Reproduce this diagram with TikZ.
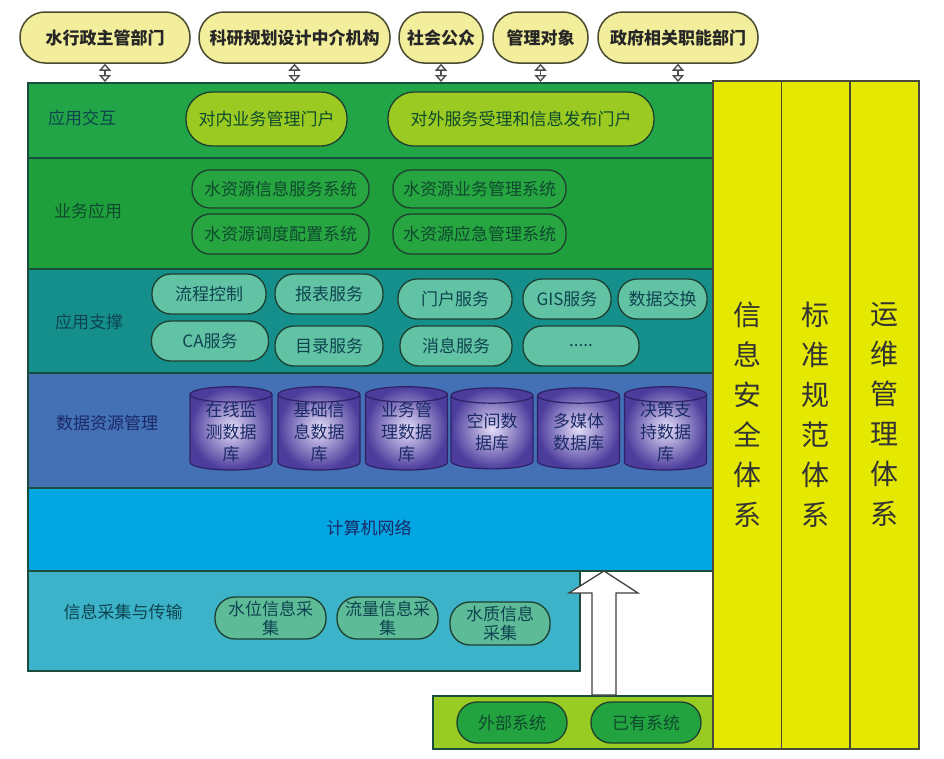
\documentclass[tikz,border=0pt]{standalone}
\usepackage{fontspec}
\setmainfont{Noto Sans CJK SC}
\usetikzlibrary{arrows.meta, positioning, shapes.geometric, calc}
\definecolor{topfill}{HTML}{F2EE9C}
\definecolor{topdraw}{HTML}{4A4A30}
\definecolor{laydraw}{HTML}{1B4D3E}
\definecolor{layone}{HTML}{22A546}
\definecolor{laytwo}{HTML}{1F9F3B}
\definecolor{laythree}{HTML}{158F8C}
\definecolor{layfour}{HTML}{4470B6}
\definecolor{layfive}{HTML}{02A6E2}
\definecolor{laysix}{HTML}{3CB3C8}
\definecolor{portfill}{HTML}{9BCB22}
\definecolor{sysfill}{HTML}{27A541}
\definecolor{svcfill}{HTML}{62C3A4}
\definecolor{acqfill}{HTML}{5EBB98}
\definecolor{extfill}{HTML}{99CC22}
\definecolor{extpill}{HTML}{22A33F}
\definecolor{colfill}{HTML}{E5E800}
\definecolor{coldraw}{HTML}{4A4A3A}
\definecolor{dbin}{HTML}{E4DEF8}
\definecolor{dbout}{HTML}{4C3C9C}
\definecolor{dbdraw}{HTML}{2E2266}
\definecolor{pilldraw}{HTML}{1E3F30}
\definecolor{greentext}{HTML}{0E4A2E}
\definecolor{tealtext}{HTML}{0D4450}
\definecolor{navytext}{HTML}{1A2A66}

\begin{document}
\begin{tikzpicture}[x=1pt, y=-1pt,
  every node/.style={font=\fontsize{17}{22}\selectfont},
  layer/.style={rectangle, draw=laydraw, line width=1.5pt, anchor=north west, inner sep=0pt, minimum width=685pt},
  toppill/.style={rectangle, rounded corners=25pt, draw=topdraw, fill=topfill, line width=1.5pt, minimum height=51pt, inner sep=0pt, font=\bfseries\fontsize{17}{22}\selectfont, text=black!85},
  pill/.style={rectangle, rounded corners=#1, draw=pilldraw, line width=1.3pt, inner sep=0pt, align=center},
  dbnode/.style={cylinder, shape border rotate=90, aspect=0.3, draw=dbdraw, line width=1.2pt, inner color=dbin, outer color=dbout, minimum width=82pt, minimum height=81pt, inner sep=0pt, align=center, text=navytext},
  colnode/.style={rectangle, draw=coldraw, fill=colfill, line width=1.5pt, anchor=north west, minimum width=68.7pt, minimum height=668pt, inner sep=0pt, align=center, font=\fontsize{28}{40}\selectfont, text=black!80},
  link/.style={draw=black!70, line width=1.4pt, {Triangle[open, fill=white, length=7pt, width=12pt]}-{Triangle[open, fill=white, length=7pt, width=12pt]}},
  bigarrow/.style={draw=black!75, fill=white, line width=1.3pt},
]
\useasboundingbox (0,0) rectangle (944,758);

\node[toppill, minimum width=170pt] (t1) at (105,37.5) {水行政主管部门};
\node[toppill, minimum width=191pt] (t2) at (294.5,37.5) {科研规划设计中介机构};
\node[toppill, minimum width=84pt] (t3) at (441,37.5) {社会公众};
\node[toppill, minimum width=95pt] (t4) at (540.5,37.5) {管理对象};
\node[toppill, minimum width=160pt] (t5) at (678,37.5) {政府相关职能部门};

\node[layer, fill=layone, minimum height=75pt] (lay1) at (27,82) {};
\node[layer, fill=laytwo, minimum height=111pt] (lay2) at (27,157) {};
\node[layer, fill=laythree, minimum height=104pt] (lay3) at (27,268) {};
\node[layer, fill=layfour, minimum height=115pt] (lay4) at (27,372) {};
\node[layer, fill=laysix, minimum height=100pt, minimum width=552pt] (lay6) at (27,570) {};
\node[layer, fill=layfive, minimum height=83pt] (lay5) at (27,487) {};
\node[rectangle, draw=laydraw, line width=1.5pt, fill=extfill, anchor=north west, minimum width=280pt, minimum height=53pt, inner sep=0pt] (ext) at (432,695) {};

\foreach \t in {t1,t2,t3,t4,t5}
  \draw[link] (\t.south) -- (\t.south |- lay1.north);

\node[text=tealtext] (lab1) at (82,118) {应用交互};
\node[text=greentext] (lab2) at (88,211) {业务应用};
\node[text=tealtext] (lab3) at (89,322) {应用支撑};
\node[text=navytext] (lab4) at (107,423) {数据资源管理};
\node[text=navytext] (lab5) at (369,528) {计算机网络};
\node[text=tealtext] (lab6) at (123,612) {信息采集与传输};

\node[pill=26pt, fill=portfill, minimum width=161pt, minimum height=54pt, text=greentext] (p1) at (266.5,119) {对内业务管理门户};
\node[pill=26pt, fill=portfill, minimum width=266pt, minimum height=54pt, text=greentext] (p2) at (521,119) {对外服务受理和信息发布门户};

\node[pill=18pt, fill=sysfill, minimum width=177pt, minimum height=38pt, text=greentext] (b1) at (280.5,189) {水资源信息服务系统};
\node[pill=18pt, fill=sysfill, minimum width=173pt, minimum height=38pt, text=greentext] (b2) at (479.5,189) {水资源业务管理系统};
\node[pill=18pt, fill=sysfill, minimum width=177pt, minimum height=40pt, text=greentext] (b3) at (280.5,234) {水资源调度配置系统};
\node[pill=18pt, fill=sysfill, minimum width=173pt, minimum height=40pt, text=greentext] (b4) at (479.5,234) {水资源应急管理系统};

\node[pill=19pt, fill=svcfill, minimum width=114pt, minimum height=40pt, text=tealtext] (s1) at (209,294) {流程控制};
\node[pill=19pt, fill=svcfill, minimum width=108pt, minimum height=40pt, text=tealtext] (s2) at (329,294) {报表服务};
\node[pill=19pt, fill=svcfill, minimum width=114pt, minimum height=40pt, text=tealtext] (s3) at (455,299) {门户服务};
\node[pill=19pt, fill=svcfill, minimum width=88pt, minimum height=40pt, text=tealtext] (s4) at (567,299) {GIS服务};
\node[pill=19pt, fill=svcfill, minimum width=89pt, minimum height=40pt, text=tealtext] (s5) at (662.5,299) {数据交换};
\node[pill=19pt, fill=svcfill, minimum width=117pt, minimum height=40pt, text=tealtext] (s6) at (210,341) {CA服务};
\node[pill=19pt, fill=svcfill, minimum width=108pt, minimum height=40pt, text=tealtext] (s7) at (329,346) {目录服务};
\node[pill=19pt, fill=svcfill, minimum width=112pt, minimum height=40pt, text=tealtext] (s8) at (456,346) {消息服务};
\node[pill=19pt, fill=svcfill, minimum width=116pt, minimum height=40pt, text=tealtext] (s9) at (581,346) {.....};

\node[dbnode] (d1) at (231,432.5) {在线监\\测数据\\库};
\node[dbnode] (d2) at (319,432.5) {基础信\\息数据\\库};
\node[dbnode] (d3) at (406.5,432.5) {业务管\\理数据\\库};
\node[dbnode] (d4) at (492,432.5) {空间数\\据库};
\node[dbnode] (d5) at (578.5,432.5) {多媒体\\数据库};
\node[dbnode] (d6) at (665.5,432.5) {决策支\\持数据\\库};

\node[pill=20pt, fill=acqfill, minimum width=111pt, minimum height=42pt, text=tealtext, font=\fontsize{17}{19}\selectfont] (c1) at (270.5,618) {水位信息采\\集};
\node[pill=20pt, fill=acqfill, minimum width=101pt, minimum height=42pt, text=tealtext, font=\fontsize{17}{19}\selectfont] (c2) at (387.5,618) {流量信息采\\集};
\node[pill=20pt, fill=acqfill, minimum width=100pt, minimum height=43pt, text=tealtext, font=\fontsize{17}{19}\selectfont] (c3) at (500,623.5) {水质信息\\采集};

\node[pill=20pt, fill=extpill, minimum width=110pt, minimum height=41pt, text=greentext] (e1) at (512,722.5) {外部系统};
\node[pill=20pt, fill=extpill, minimum width=110pt, minimum height=41pt, text=greentext] (e2) at (646,722.5) {已有系统};

\coordinate (arrbot) at (604,695);
\coordinate (arrtop) at (604,571);
\draw[bigarrow] ($(arrbot)+(-12,0)$) -- ($(arrtop)+(-12,22)$) -- ($(arrtop)+(-35,22)$) -- (arrtop)
  -- ($(arrtop)+(34,22)$) -- ($(arrtop)+(12,22)$) -- ($(arrbot)+(12,0)$) -- cycle;

\node[colnode] (sec) at (712,80) {信\\息\\安\\全\\体\\系};
\node[colnode] (std) at (780.7,80) {标\\准\\规\\范\\体\\系};
\node[colnode] (ops) at (849.3,80) {运\\维\\管\\理\\体\\系};
\end{tikzpicture}
\end{document}
